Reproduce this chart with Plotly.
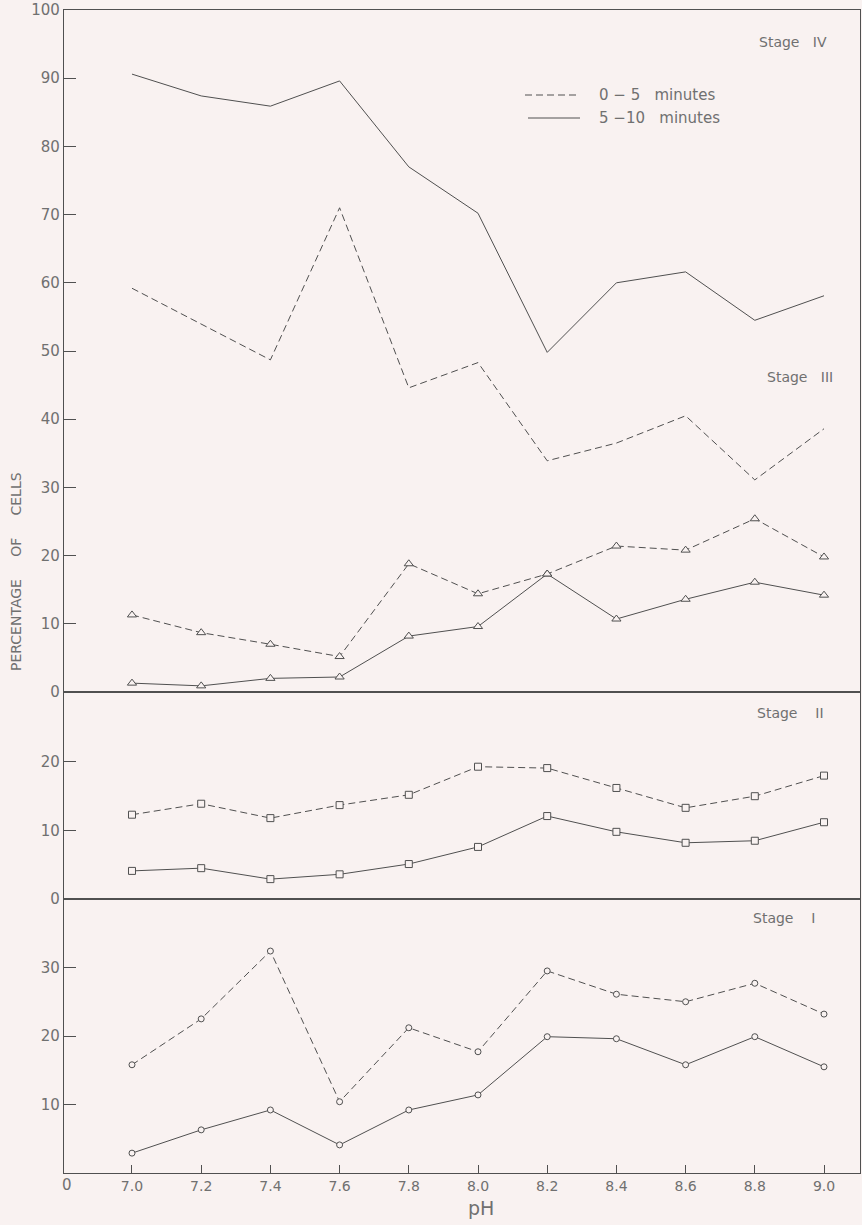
import plotly.graph_objects as go

ph = [7.0, 7.2, 7.4, 7.6, 7.8, 8.0, 8.2, 8.4, 8.6, 8.8, 9.0]
ph_ticks = ["7.0", "7.2", "7.4", "7.6", "7.8", "8.0", "8.2", "8.4", "8.6", "8.8", "9.0"]

stage4_0_5 = [59.2, 54.0, 48.7, 71.0, 44.6, 48.3, 33.9, 36.5, 40.5, 31.1, 38.6]
stage4_5_10 = [90.6, 87.4, 85.9, 89.6, 77.0, 70.2, 49.8, 60.0, 61.6, 54.5, 58.1]
stage3_0_5 = [11.3, 8.7, 7.0, 5.2, 18.8, 14.4, 17.3, 21.4, 20.8, 25.4, 19.8]
stage3_5_10 = [1.3, 0.9, 2.0, 2.2, 8.2, 9.6, 17.3, 10.7, 13.6, 16.1, 14.2]
stage2_0_5 = [12.3, 13.9, 11.8, 13.7, 15.2, 19.3, 19.1, 16.2, 13.3, 15.0, 18.0]
stage2_5_10 = [4.1, 4.5, 2.9, 3.6, 5.1, 7.6, 12.1, 9.8, 8.2, 8.5, 11.2]
stage1_0_5 = [15.8, 22.5, 32.4, 10.4, 21.2, 17.7, 29.5, 26.1, 25.0, 27.7, 23.2]
stage1_5_10 = [2.9, 6.3, 9.2, 4.1, 9.2, 11.4, 19.9, 19.6, 15.8, 19.9, 15.5]

series_names = ["0 \u2212 5   minutes", "5 \u221210   minutes"]
stage_labels = ["Stage   IV", "Stage   III", "Stage    II", "Stage    I"]

W, H = 862, 1225
ML, MR, MT, MB = 64, 2, 10, 52
BG = "#f9f2f1"
INK = "#505050"
TXT = "#707070"
FONT = "'DejaVu Sans', sans-serif"

fig = go.Figure()

def add_pair(y_dash, y_solid, symbol, xa, ya, size):
    mode = "lines+markers" if symbol else "lines"
    fig.add_trace(go.Scatter(
        x=ph, y=y_dash, xaxis=xa, yaxis=ya, mode=mode,
        line=dict(color=INK, width=1, dash="7px,4px"),
        marker=dict(symbol=symbol or "circle", size=size, color=BG,
                    line=dict(color=INK, width=1)),
        showlegend=False))
    fig.add_trace(go.Scatter(
        x=ph, y=y_solid, xaxis=xa, yaxis=ya, mode=mode,
        line=dict(color=INK, width=1),
        marker=dict(symbol=symbol or "circle", size=size, color=BG,
                    line=dict(color=INK, width=1)),
        showlegend=False))

add_pair(stage4_0_5, stage4_5_10, None, "x", "y", 6)
add_pair(stage3_0_5, stage3_5_10, "triangle-up", "x", "y", 8)
add_pair(stage2_0_5, stage2_5_10, "square", "x2", "y2", 7)
add_pair(stage1_0_5, stage1_5_10, "circle", "x3", "y3", 6)

ph_h = H - MT - MB
b1 = 274 / ph_h
b2 = (274 + 207) / ph_h

xrange = [6.8035, 9.104]
axis_common = dict(showline=True, linecolor=INK, linewidth=1.3, mirror=True,
                   showgrid=False, zeroline=False)
tickfont = dict(family=FONT, size=15, color=TXT)

fig.update_layout(
    width=W, height=H,
    margin=dict(l=ML, r=MR, t=MT, b=MB),
    paper_bgcolor=BG, plot_bgcolor=BG,
    showlegend=False,
    xaxis=dict(range=xrange, domain=[0, 1], anchor="y", showticklabels=False, ticks="", **axis_common),
    yaxis=dict(range=[0, 100], domain=[b2, 1], anchor="x",
               tickvals=list(range(0, 101, 10)), ticks="inside", ticklen=12, tickcolor=INK,
               tickfont=tickfont, **axis_common),
    xaxis2=dict(range=xrange, domain=[0, 1], anchor="y2", showticklabels=False, ticks="", **axis_common),
    yaxis2=dict(range=[0, 30.2], domain=[b1, b2], anchor="x2",
                tickvals=[0, 10, 20], ticks="inside", ticklen=12, tickcolor=INK,
                tickfont=tickfont, **axis_common),
    xaxis3=dict(range=xrange, domain=[0, 1], anchor="y3",
                tickvals=ph, ticktext=ph_ticks, ticks="inside", ticklen=8, tickcolor=INK,
                tickfont=dict(family=FONT, size=14, color=TXT), **axis_common),
    yaxis3=dict(range=[0, 40], domain=[0, b1], anchor="x3",
                tickvals=[10, 20, 30], ticks="inside", ticklen=12, tickcolor=INK,
                tickfont=tickfont, **axis_common),
)

def to_paper(xpix, ypix):
    return (xpix - ML) / (W - ML - MR), 1 - (ypix - MT) / ph_h

def label(text, xpix, ypix, size=14, xanchor="center", textangle=0):
    xp, yp = to_paper(xpix, ypix)
    fig.add_annotation(text=text, x=xp, y=yp, xref="paper", yref="paper",
                       xanchor=xanchor, yanchor="middle", showarrow=False, textangle=textangle,
                       font=dict(family=FONT, size=size, color=TXT))

label(stage_labels[0], 793, 42)
label(stage_labels[1], 800, 377)
label(stage_labels[2], 790, 713)
label(stage_labels[3], 784, 918)
label(series_names[0], 597, 95, size=15, xanchor="left")
label(series_names[1], 597, 118, size=15, xanchor="left")
label("PERCENTAGE     OF     CELLS", 16, 572, size=14, textangle=-90)
label("pH", 481, 1208, size=19)
label("0", 67, 1185, size=15)

for (xa, xb, yy, dash) in [(525, 580, 95, "7px,4px"), (528, 580, 118, "solid")]:
    x0, y0 = to_paper(xa, yy)
    x1, _ = to_paper(xb, yy)
    fig.add_shape(type="line", xref="paper", yref="paper", x0=x0, x1=x1, y0=y0, y1=y0,
                  line=dict(color=INK, width=1, dash=dash))

fig.write_html("out.html", config={"displayModeBar": False},
               post_script="document.body.style.margin='0';document.body.style.overflow='hidden';")
